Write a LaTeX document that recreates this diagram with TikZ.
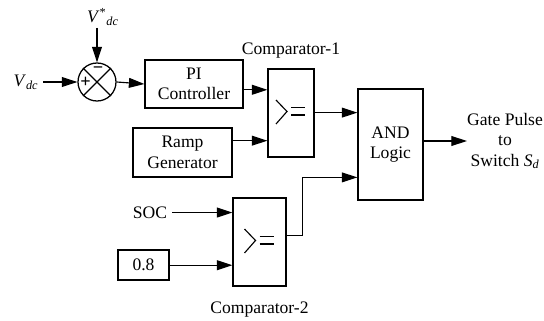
\documentclass[tikz,border=0pt]{standalone}
\usepackage{fontspec}
\setmainfont{Liberation Serif}
\usetikzlibrary{arrows.meta, calc}

\begin{document}
\begin{tikzpicture}[x=0.025cm, y=-0.025cm, font=\fontsize{12.5}{14.5}\selectfont,
    block/.style={draw, line width=0.9pt, align=center, inner sep=0pt},
    cmp/.style={block, path picture={
      \draw[line width=0.8pt] (path picture bounding box.center) ++(-15,-13) -- ++(11,11.5) -- ++(-11,12.5);
      \draw[line width=0.8pt] (path picture bounding box.center) ++(0,-5.5) -- ++(14,0);
      \draw[line width=0.8pt] (path picture bounding box.center) ++(0,2) -- ++(14,0);}},
    arr/.style={-{Triangle[length=11pt,width=7pt]}, line width=0.8pt}]
  \useasboundingbox (0,0) rectangle (544,321);

  % summing junction
  \node[draw, circle, line width=0.9pt, minimum size=0.95cm, inner sep=0pt] (sum) at (97,82) {};
  \draw[line width=0.8pt] (sum.45) -- (sum.225) (sum.135) -- (sum.315);
  \node[font=\bfseries\fontsize{13}{13}\selectfont] (plus) at (85.5,82) {+};
  \node[font=\bfseries\fontsize{13}{13}\selectfont] (minus) at (98,70) {\textminus};
  \node (vdc) at (26,82) {\textit{V}\textsubscript{\textit{dc}}};
  \node (vref) at (103,17) {\textit{V}\textsuperscript{*}\textsubscript{\textit{dc}}};
  \coordinate (vreftop) at (97,28);

  % blocks
  \node[block, minimum width=2.45cm, minimum height=1.2cm] (pi) at (194,84) {PI\\Controller};
  \node[block, minimum width=2.475cm, minimum height=1.225cm] (ramp) at (182.5,152.5) {Ramp\\Generator};
  \node[cmp, minimum width=1.15cm, minimum height=2.2cm] (cmpa) at (291,113) {};
  \node[cmp, minimum width=1.325cm, minimum height=2.2cm] (cmpb) at (259.5,242) {};
  \node[block, minimum width=1.625cm, minimum height=2.775cm] (and) at (390.5,144.5) {AND\\Logic};
  \node[block, minimum width=1.275cm, minimum height=0.75cm] (lim) at (143.5,265) {0.8};
  \node (soc) at (150,213) {SOC};
  \node[above=4pt] (cmpalbl) at (cmpa.north) {Comparator-1};
  \node[below=7pt] (cmpblbl) at (cmpb.south) {Comparator-2};
  \node[align=center, inner sep=0pt] (gate) at (505,141) {Gate Pulse\\to\\Switch \textit{S}\textsubscript{\textit{d}}};

  % ports
  \coordinate (c1in1) at ($(cmpa.north west)!0.24!(cmpa.south west)$);
  \coordinate (c1in2) at ($(cmpa.north west)!0.81!(cmpa.south west)$);
  \coordinate (c2in1) at ($(cmpb.north west)!0.17!(cmpb.south west)$);
  \coordinate (c2in2) at ($(cmpb.north west)!0.76!(cmpb.south west)$);
  \coordinate (c2out) at ($(cmpb.north east)!0.43!(cmpb.south east)$);
  \coordinate (andin1) at ($(and.north west)!0.216!(and.south west)$);
  \coordinate (andin2) at ($(and.north west)!0.793!(and.south west)$);

  % connections
  \draw[arr] (vdc.east) -- (sum.west);
  \draw[arr] (vreftop) -- (sum.north);
  \draw[arr] (sum.east) -- (pi.west);
  \draw[arr] (pi.east |- c1in1) -- (c1in1);
  \draw[arr] (ramp.east |- c1in2) -- (c1in2);
  \draw[arr] (cmpa.east |- andin1) -- (andin1);
  \draw[arr] (soc.east |- c2in1) -- (c2in1);
  \draw[arr] (lim.east |- c2in2) -- (c2in2);
  \draw[arr] (c2out) -- ++(16,0) |- (andin2);
  \draw[arr] (and.east |- gate.west) -- (gate.west);
\end{tikzpicture}
\end{document}
